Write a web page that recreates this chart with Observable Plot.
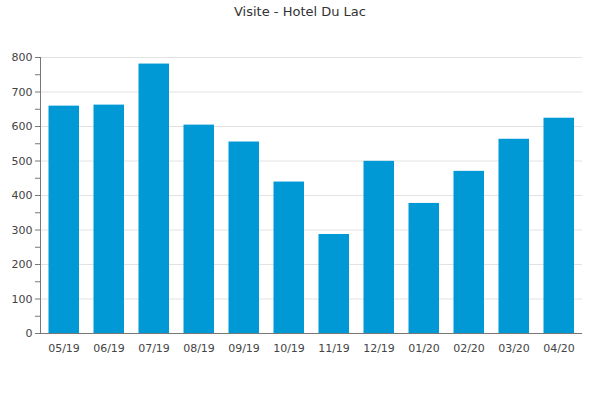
<!DOCTYPE html>
<html>
<head>
<meta charset="utf-8">
<script src="https://cdn.jsdelivr.net/npm/d3@7"></script>
<script src="https://cdn.jsdelivr.net/npm/@observablehq/plot@0.6"></script>
<style>
  html, body { margin: 0; padding: 0; background: #fff; }
  #title { height: 24px; line-height: 24px; text-align: center; font-family: "DejaVu Sans", sans-serif; font-size: 13px; color: #333; }
  svg { display: block; }
</style>
</head>
<body>
<div id="title">Visite - Hotel Du Lac</div>
<div id="chart"></div>
<script>
const months = ["05/19","06/19","07/19","08/19","09/19","10/19","11/19","12/19","01/20","02/20","03/20","04/20"];
const visits = [659, 662, 781, 604, 555, 439, 287, 499, 377, 470, 563, 624];
const yTicks = [0, 100, 200, 300, 400, 500, 600, 700, 800];
const yMinorTicks = [50, 150, 250, 350, 450, 550, 650, 750];

const data = months.map((m, i) => ({month: m, value: visits[i]}));

const chart = Plot.plot({
  width: 600,
  height: 376,
  marginTop: 33,
  marginBottom: 67,
  marginLeft: 40,
  marginRight: 18,
  style: {fontFamily: "DejaVu Sans, sans-serif", fontSize: "11px", color: "#444", background: "#fff"},
  x: {domain: months, padding: 0, label: null},
  y: {domain: [0, 800], label: null},
  marks: [
    Plot.gridY(yTicks, {stroke: "#e2e2e2", strokeOpacity: 1}),
    Plot.barY(data, {x: "month", y: "value", fill: "#0099d5", insetLeft: 7.5, insetRight: 7}),
    Plot.axisY(yTicks, {tickSize: 5, tickPadding: 3, stroke: "#777", fontSize: 11, fill: "#444", label: null}),
    Plot.axisY(yMinorTicks, {tickSize: 5, text: null, stroke: "#777", label: null}),
    Plot.axisX({tickSize: 0, tickPadding: 11, fontSize: 11, fill: "#444", label: null}),
    Plot.ruleY([0], {stroke: "#777"}),
    Plot.frame({anchor: "left", stroke: "#777"})
  ]
});
document.getElementById("chart").appendChild(chart);
</script>
</body>
</html>
